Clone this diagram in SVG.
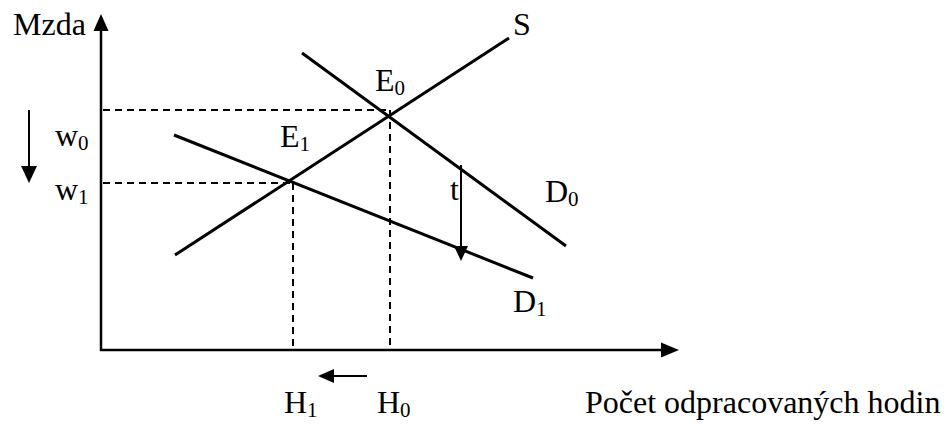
<svg xmlns="http://www.w3.org/2000/svg" width="951" height="425" viewBox="0 0 951 425">
<style>
text{font-family:"Liberation Serif","Times New Roman",serif;font-size:32px;fill:#000}
.sub{font-size:21px}
.curve{stroke:#000;stroke-width:3;fill:none;stroke-linecap:butt}
.axis{stroke:#000;stroke-width:2.5;fill:none}
.dash{stroke:#000;stroke-width:2;fill:none;stroke-dasharray:7,5}
.arr{stroke:#000;stroke-width:2;fill:none}
.head{fill:#000;stroke:none}
</style>
<rect width="951" height="425" fill="#fff"/>
<g id="axes">
<line class="axis" x1="101" y1="351" x2="101" y2="28"/>
<polygon class="head" points="101,14 93.5,31 108.5,31"/>
<line class="axis" x1="100" y1="350" x2="664" y2="350"/>
<polygon class="head" points="679,350 661,342.5 661,357.5"/>
</g>
<g id="connectors">
<line class="dash" x1="103" y1="110" x2="390" y2="110"/>
<line class="dash" x1="390" y1="110" x2="390" y2="349"/>
<line class="dash" x1="103" y1="183" x2="292" y2="183"/>
<line class="dash" x1="293" y1="183" x2="293" y2="349"/>
</g>
<g id="curve-S">
<line class="curve" x1="175" y1="255" x2="509" y2="38"/>
<text x="513" y="35">S</text>
</g>
<g id="curve-D0">
<line class="curve" x1="302" y1="53" x2="566" y2="246"/>
<text x="545" y="202">D<tspan class="sub" dy="4">0</tspan></text>
</g>
<g id="curve-D1">
<line class="curve" x1="174" y1="135" x2="533" y2="278"/>
<text x="513" y="312">D<tspan class="sub" dy="4">1</tspan></text>
</g>
<g id="tax">
<line class="arr" x1="461" y1="165" x2="461" y2="250"/>
<polygon class="head" points="461,261 454,246 468,246"/>
<text x="450" y="200">t</text>
</g>
<g id="E0"><text x="375" y="91">E<tspan class="sub" dy="4">0</tspan></text></g>
<g id="E1"><text x="280" y="147">E<tspan class="sub" dy="4">1</tspan></text></g>
<g id="ylabel"><text x="13" y="35">Mzda</text></g>
<g id="w0"><text x="55" y="146">w<tspan class="sub" dy="4">0</tspan></text></g>
<g id="w1"><text x="55" y="200">w<tspan class="sub" dy="4">1</tspan></text></g>
<g id="wage-arrow">
<line class="arr" x1="29" y1="110" x2="29" y2="170"/>
<polygon class="head" points="29,183 21,166 37,166"/>
</g>
<g id="hours-arrow">
<line class="arr" x1="367" y1="376" x2="332" y2="376"/>
<polygon class="head" points="318,376 334,369 334,383"/>
</g>
<g id="H1"><text x="284" y="413">H<tspan class="sub" dy="4">1</tspan></text></g>
<g id="H0"><text x="377" y="413">H<tspan class="sub" dy="4">0</tspan></text></g>
<g id="xlabel"><text x="585" y="413">Počet odpracovaných hodin</text></g>
</svg>
